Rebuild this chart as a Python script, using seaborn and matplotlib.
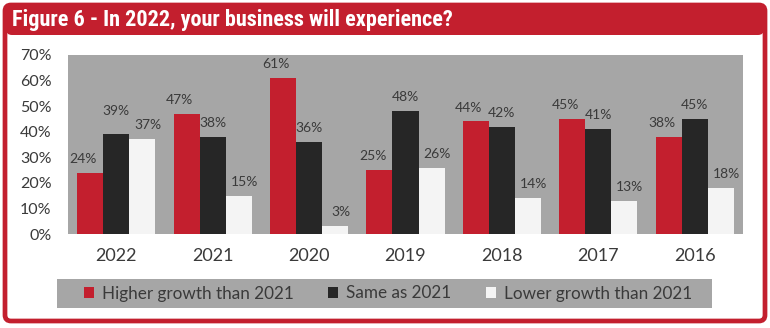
import matplotlib
matplotlib.use("Agg")
import matplotlib.pyplot as plt
import matplotlib.transforms as mtransforms
from matplotlib.patches import FancyBboxPatch, Rectangle, Patch
from matplotlib import font_manager
import seaborn as sns
import pandas as pd

# ---- data -------------------------------------------------------------
years = ["2022", "2021", "2020", "2019", "2018", "2017", "2016"]
higher_growth = [24, 47, 61, 25, 44, 45, 38]
same_as_2021 = [39, 38, 36, 48, 42, 41, 45]
lower_growth = [37, 15, 3, 26, 14, 13, 18]
series_names = ["Higher growth than 2021", "Same as 2021", "Lower growth than 2021"]
y_ticks = [0, 10, 20, 30, 40, 50, 60, 70]
title = "Figure 6 - In 2022, your business will experience?"

RED = "#c31f2e"
BLACK = "#262626"
WHITE = "#f4f4f4"
PANEL = "#a6a6a6"
TEXT = "#3a3a3a"

rows = []
for name, vals in zip(series_names, [higher_growth, same_as_2021, lower_growth]):
    for yr, v in zip(years, vals):
        rows.append({"year": yr, "value": v, "series": name})
df = pd.DataFrame(rows)

sns.set_theme(style="white")
available = {f.name for f in font_manager.fontManager.ttflist}
body_font = "Lato" if "Lato" in available else "DejaVu Sans"
title_font = None
for cand in ["Liberation Sans Narrow", "Roboto Condensed", "Liberation Sans"]:
    if cand in available:
        title_font = cand
        break
if title_font is None:
    title_font = "DejaVu Sans"
plt.rcParams["font.family"] = [body_font, "DejaVu Sans"]

W, H = 770, 328
fig = plt.figure(figsize=(W / 100, H / 100), dpi=100)
fig.patch.set_facecolor("white")

# pixel coordinates with origin at top-left
px = mtransforms.Affine2D().scale(1 / W, -1 / H).translate(0, 1) + fig.transFigure

# title band and outer frame
band = FancyBboxPatch((6, 5), 758, 30, boxstyle="round,pad=0,rounding_size=6",
                      transform=px, facecolor=RED, edgecolor="none", zorder=1)
fig.patches.append(band)
frame = FancyBboxPatch((5, 5), 760, 316, boxstyle="round,pad=0,rounding_size=6",
                       transform=px, facecolor="none", edgecolor=RED,
                       linewidth=3.4, zorder=3)
fig.patches.append(frame)
fig.text(12 / W, 1 - 20 / H, title, color="white", fontsize=16,
         fontweight="bold", family=[title_font, "DejaVu Sans"],
         va="center", ha="left")

# plot area
ax = fig.add_axes([68 / W, 1 - 234 / H, (743 - 68) / W, (234 - 55) / H])
ax.set_facecolor(PANEL)
sns.barplot(data=df, x="year", y="value", hue="series", order=years,
            hue_order=series_names, palette=[RED, BLACK, WHITE],
            width=0.81, saturation=1, errorbar=None, ax=ax, legend=False,
            linewidth=0)

ax.set_ylim(0, 70)
ax.set_xlim(-0.5, len(years) - 0.5)
ax.set_yticks(y_ticks)
ax.set_yticklabels([f"{t}%" for t in y_ticks])
ax.set_xlabel("")
ax.set_ylabel("")
for s in ax.spines.values():
    s.set_visible(False)
ax.tick_params(axis="y", length=0, pad=12, labelsize=11.5, labelcolor=TEXT)
ax.tick_params(axis="x", length=0, pad=10, labelsize=13, labelcolor=TEXT)

# value labels above each bar
label_dx = [-5, 0, 4]  # points, per series
for i, cont in enumerate(ax.containers):
    for j, bar in enumerate(cont):
        v = bar.get_height()
        dy = 10
        if i == 1 and j == 0:
            dy = 17
        ax.annotate(f"{v:.0f}%", (bar.get_x() + bar.get_width() / 2, v),
                    xytext=(label_dx[i], dy), textcoords="offset points",
                    ha="center", va="center", fontsize=10, color=TEXT)

# legend panel
leg_bg = Rectangle((57, 279), 655, 29, transform=px, facecolor=PANEL,
                   edgecolor="none", zorder=1)
fig.patches.append(leg_bg)
handles = [Patch(facecolor=c, edgecolor="none") for c in [RED, BLACK, WHITE]]
leg = fig.legend(handles, series_names, loc="center",
                 bbox_to_anchor=(388 / W, 1 - 293.5 / H), ncol=3,
                 frameon=False, fontsize=12.3, handlelength=0.6,
                 handleheight=0.6, handletextpad=0.45, columnspacing=2.0,
                 borderpad=0)
for t in leg.get_texts():
    t.set_color(TEXT)

fig.savefig("out.png", dpi=100)
